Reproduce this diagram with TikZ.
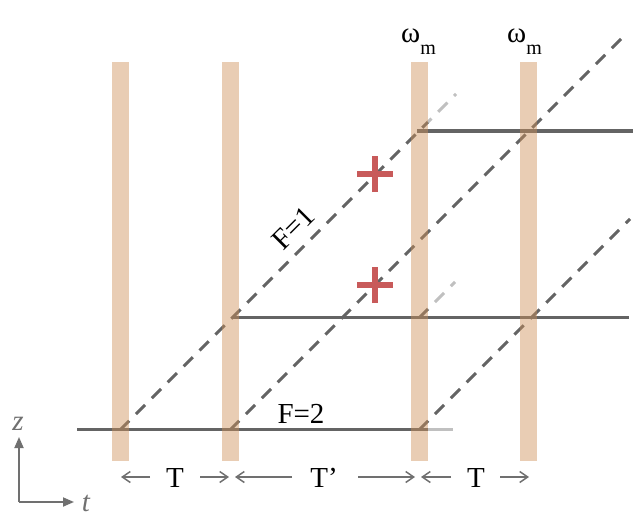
\documentclass[tikz,border=0pt]{standalone}
\usepackage{fontspec}
\setmainfont{Liberation Serif}
\usetikzlibrary{arrows.meta}
\definecolor{barc}{RGB}{206,144,88}
\definecolor{dk}{RGB}{100,100,100}
\definecolor{lt}{RGB}{192,192,192}
\definecolor{crossc}{RGB}{200,90,90}
\definecolor{axc}{RGB}{112,112,112}
\begin{document}
\begin{tikzpicture}[x=1pt,y=-1pt,
  beam/.style={dk, line width=3pt, dash pattern=on 13pt off 9.5pt},
  beamlt/.style={beam, lt},
  flat/.style={dk, line width=3.2pt},
  flatlt/.style={flat, lt},
  pulse/.style={fill=barc, fill opacity=0.45, draw=none},
  lab/.style={font=\fontsize{29}{33}\selectfont, inner sep=0pt},
  span/.style={axc, line width=1.5pt, -{Straight Barb[length=8pt,width=11pt]}},
  axis/.style={axc, line width=1.8pt, -{Triangle[length=11pt,width=9pt]}},
  crossarm/.style={crossc, line width=6.5pt}]
\useasboundingbox (0,0) rectangle (642,524);
% coordinates
\coordinate (h1a) at (77,429.5);   \coordinate (h1b) at (428,429.5); \coordinate (h1c) at (453,429.5);
\coordinate (h2a) at (232,317.5);  \coordinate (h2b) at (629,317.5);
\coordinate (h3a) at (417,131);    \coordinate (h3b) at (633,131);
\coordinate (d1a) at (120,430);    \coordinate (d1b) at (428,122);   \coordinate (d1c) at (456,94);
\coordinate (d2a) at (230,430);    \coordinate (d2b) at (627,33);
\coordinate (d3a) at (419,430);    \coordinate (d3b) at (630,219);
\coordinate (d4a) at (419,318);    \coordinate (d4b) at (428,309);   \coordinate (d4c) at (455,282);
% horizontal paths
\draw[flat] (h1a) -- (h1b);
\draw[flatlt] (h1b) -- (h1c);
\draw[flat] (h2a) -- (h2b);
\draw[flat] (h3a) -- (h3b);
% diagonal paths
\draw[beam] (d1a) -- (d1b);
\draw[beamlt, dash phase=435.58pt] (d1b) -- (d1c);
\draw[beam] (d2a) -- (d2b);
\draw[beam] (d3a) -- (d3b);
\draw[beam] (d4a) -- (d4b);
\draw[beamlt, dash phase=12.73pt] (d4b) -- (d4c);
% pulses
\fill[pulse] (112,62) rectangle (129,461);
\fill[pulse] (222,62) rectangle (239,461);
\fill[pulse] (411,62) rectangle (428,461);
\fill[pulse] (519.5,62) rectangle (536.5,461);
% omega labels
\node[lab, anchor=base west] (w1) at (401,43) {ω\raisebox{-12pt}{\fontsize{20}{22}\selectfont m}};
\node[lab, anchor=base west] (w2) at (507,43) {ω\raisebox{-12pt}{\fontsize{20}{22}\selectfont m}};
% F labels
\node[lab, anchor=base] (f2) at (301,423) {F=2};
\node[lab, rotate=45] (f1) at (293,228) {F=1};
% crosses
\coordinate (c1) at (375,174);
\coordinate (c2) at (375,285);
\draw[crossarm] ([xshift=-18pt]c1) -- ([xshift=18pt]c1);
\draw[crossarm] ([yshift=-18pt]c1) -- ([yshift=18pt]c1);
\draw[crossarm] ([xshift=-18pt]c2) -- ([xshift=18pt]c2);
\draw[crossarm] ([yshift=-18pt]c2) -- ([yshift=18pt]c2);
% time spans
\node[lab] (t1) at (175,478) {T};
\node[lab] (t2) at (324,478) {T’};
\node[lab] (t3) at (476,478) {T};
\coordinate (s1a) at (150,477); \coordinate (s1b) at (121,477);
\coordinate (s2a) at (200,477); \coordinate (s2b) at (229,477);
\coordinate (s3a) at (292,477); \coordinate (s3b) at (235,477);
\coordinate (s4a) at (358,477); \coordinate (s4b) at (415,477);
\coordinate (s5a) at (451,477); \coordinate (s5b) at (421,477);
\coordinate (s6a) at (500,477); \coordinate (s6b) at (529,477);
\draw[span] (s1a) -- (s1b);
\draw[span] (s2a) -- (s2b);
\draw[span] (s3a) -- (s3b);
\draw[span] (s4a) -- (s4b);
\draw[span] (s5a) -- (s5b);
\draw[span] (s6a) -- (s6b);
% axes
\coordinate (ao) at (19,502);
\coordinate (az) at (19,437);
\coordinate (at) at (74,502);
\draw[axis] (ao) -- (az);
\draw[axis] (ao) -- (at);
\node[lab, axc, font=\fontsize{29}{32}\selectfont\itshape] (zl) at (18,424) {z};
\node[lab, axc, font=\fontsize{29}{32}\selectfont\itshape] (tl) at (86,503) {t};
\end{tikzpicture}
\end{document}
